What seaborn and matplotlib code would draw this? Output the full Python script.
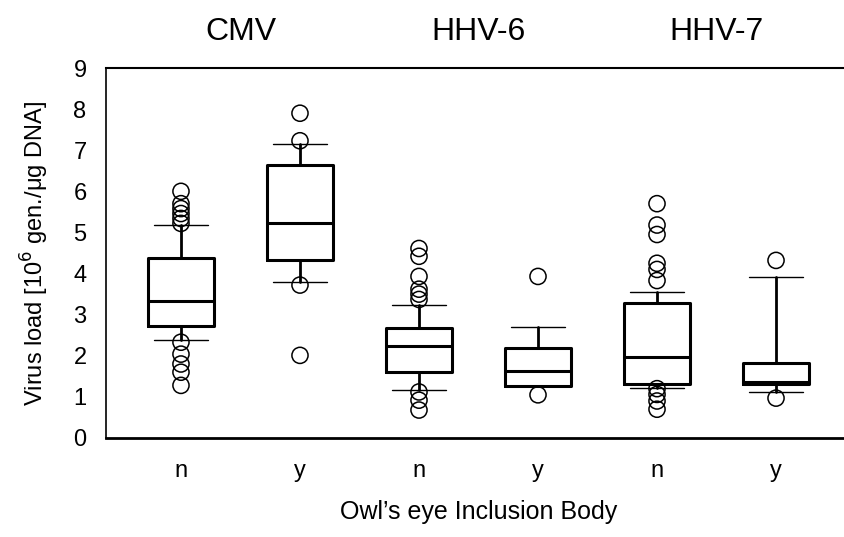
import pandas as pd
import matplotlib
matplotlib.use("Agg")
import matplotlib.pyplot as plt
import seaborn as sns

# Datos (resumen de cada caja)
virus = ["CMV", "HHV-6", "HHV-7"]
etiquetas = ["n", "y", "n", "y", "n", "y"]
q1 = [2.72, 4.34, 1.60, 1.26, 1.31, 1.31]
mediana = [3.33, 5.22, 2.23, 1.63, 1.97, 1.36]
q3 = [4.38, 6.65, 2.67, 2.18, 3.28, 1.82]
bigote_bajo = [2.38, 3.79, 1.17, 1.26, 1.22, 1.12]
bigote_alto = [5.17, 7.14, 3.23, 2.69, 3.54, 3.91]
atipicos = [
    [6.0, 5.7, 5.58, 5.46, 5.34, 5.22, 2.33, 2.04, 1.8, 1.6, 1.28],
    [7.9, 7.23, 3.72, 2.01],
    [4.61, 4.42, 3.93, 3.62, 3.5, 3.37, 1.12, 0.92, 0.68],
    [3.93, 1.05],
    [5.7, 5.18, 4.95, 4.25, 4.1, 3.83, 1.2, 1.06, 0.9, 0.7],
    [4.32, 0.97],
]

sns.set_theme(style="white")
plt.rcParams["font.family"] = ["Liberation Sans", "DejaVu Sans"]
plt.rcParams["text.color"] = "black"
plt.rcParams["axes.labelcolor"] = "black"

fig = plt.figure(figsize=(8.44, 5.37), dpi=100)
ax = fig.add_axes([106 / 844, 1 - 438 / 537, (851 - 106) / 844, (438 - 68) / 537])

stats = []
for i in range(len(etiquetas)):
    stats.append({"q1": q1[i], "med": mediana[i], "q3": q3[i],
                  "whislo": bigote_bajo[i], "whishi": bigote_alto[i], "fliers": []})

ax.bxp(stats, positions=range(len(etiquetas)), widths=0.55, showfliers=False,
       capwidths=0.45,
       boxprops=dict(color="black", linewidth=2.2),
       medianprops=dict(color="black", linewidth=2.2),
       whiskerprops=dict(color="black", linewidth=2.0),
       capprops=dict(color="black", linewidth=1.0))

# Puntos atipicos con seaborn
filas = []
for i, vals in enumerate(atipicos):
    for v in vals:
        filas.append({"pos": i, "valor": v})
df = pd.DataFrame(filas)
sns.scatterplot(data=df, x="pos", y="valor", ax=ax, marker="o", s=135,
                facecolor="none", edgecolor="black", linewidth=1.1, zorder=3)

ax.set_xlim(-0.63, 5.63)
ax.set_ylim(0, 9)
ax.set_yticks(range(10))
ax.set_xticks(range(len(etiquetas)))
ax.set_xticklabels(etiquetas)
ax.tick_params(axis="both", length=0, labelsize=17, colors="black")
ax.tick_params(axis="x", pad=16)
ax.tick_params(axis="y", pad=14)
ax.set_xlabel("Owl\u2019s eye Inclusion Body", fontsize=18, labelpad=13, color="black")
ax.set_ylabel("Virus load [10$^6$ gen./\u03bcg DNA]", fontsize=17, labelpad=16, color="black")

for lado in ["left", "top", "bottom"]:
    ax.spines[lado].set_color("black")
ax.spines["left"].set_linewidth(1.2)
ax.spines["top"].set_linewidth(1.5)
ax.spines["bottom"].set_linewidth(2.0)
ax.spines["right"].set_visible(False)

for j, nombre in enumerate(virus):
    ax.text(2 * j + 0.5, 9.5, nombre, ha="center", va="bottom", fontsize=23)

fig.savefig("out.png", dpi=100)
